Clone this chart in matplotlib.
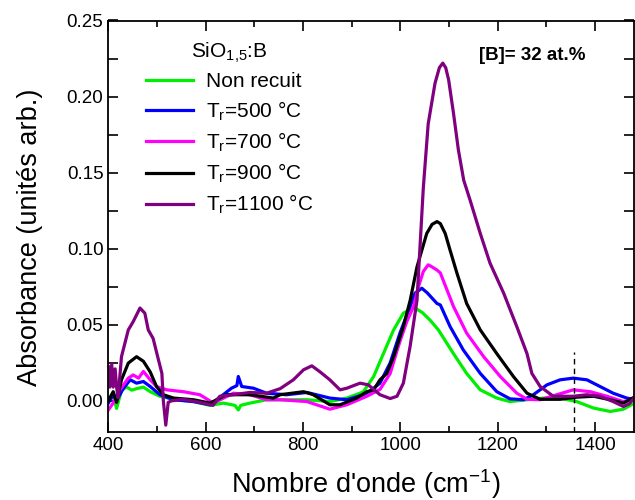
import matplotlib
matplotlib.use("Agg")
import matplotlib.pyplot as plt
from matplotlib.ticker import MultipleLocator

plt.rcParams['font.family'] = ['Liberation Sans', 'DejaVu Sans']
plt.rcParams['mathtext.default'] = 'regular'

# ---- data ----
green_x = [400, 407, 412, 417, 427, 438, 448, 458, 472, 486, 506, 534, 575, 609, 636, 660, 667, 672, 691,
           725, 766, 808, 855, 890, 917, 924, 945, 965, 986, 1006, 1020, 1030, 1045, 1061, 1078, 1109, 1136,
           1164, 1198, 1225, 1260, 1294, 1328, 1362, 1397, 1431, 1458, 1478]
green_y = [0.000, 0.004, 0.001, -0.005, 0.007, 0.009, 0.007, 0.008, 0.009, 0.006, 0.003, 0.001, -0.0005,
           -0.003, -0.0015, -0.003, -0.006, -0.003, -0.0015, 0.0007, 0.0007, 0.0007, -0.0005, 0.0018, 0.005,
           0.006, 0.016, 0.031, 0.0466, 0.0576, 0.060, 0.061, 0.058, 0.053, 0.0466, 0.031, 0.018, 0.0072,
           0.0018, -0.0005, 0.0007, 0.0018, 0.0018, -0.0005, -0.0048, -0.007, -0.0055, -0.002]

blue_x = [400, 410, 417, 431, 445, 458, 472, 486, 506, 534, 575, 609, 636, 653, 664, 667, 674, 698, 725,
          766, 808, 855, 890, 924, 938, 958, 979, 999, 1020, 1030, 1044, 1055, 1075, 1082, 1102, 1129, 1164,
          1198, 1225, 1253, 1273, 1301, 1328, 1355, 1383, 1410, 1437, 1465, 1478]
blue_y = [-0.0015, 0.004, 0.000, 0.0083, 0.0138, 0.0116, 0.0127, 0.0094, 0.004, 0.0007, -0.0005, -0.0026,
          0.004, 0.0083, 0.010, 0.016, 0.0094, 0.0083, 0.005, 0.004, 0.0055, 0.0018, 0.0007, 0.004, 0.0065,
          0.0116, 0.025, 0.0445, 0.062, 0.0708, 0.074, 0.071, 0.064, 0.063, 0.0488, 0.0335, 0.018, 0.006,
          0.0013, 0.0007, 0.004, 0.0105, 0.0138, 0.0149, 0.0138, 0.0094, 0.005, 0.0018, 0.001]

magenta_x = [400, 410, 424, 441, 451, 462, 472, 486, 499, 520, 554, 588, 616, 657, 691, 725, 753, 808, 855,
             890, 931, 958, 979, 993, 1000, 1013, 1027, 1037, 1047, 1057, 1065, 1075, 1082, 1109, 1136, 1171,
             1205, 1239, 1260, 1287, 1321, 1355, 1390, 1424, 1458, 1478]
magenta_y = [-0.006, -0.0015, 0.0072, 0.0149, 0.017, 0.0149, 0.0193, 0.0138, 0.0094, 0.0072, 0.006, 0.004,
             -0.0015, 0.005, 0.004, 0.0007, 0.0007, -0.0005, -0.0055, -0.0026, 0.003, 0.0075, 0.018, 0.033,
             0.040, 0.052, 0.062, 0.075, 0.085, 0.0894, 0.088, 0.086, 0.084, 0.062, 0.0445, 0.029, 0.016,
             0.005, 0.001, 0.0007, 0.004, 0.0072, 0.006, 0.003, -0.0005, 0.001]

black_x = [400, 405, 410, 417, 427, 441, 458, 472, 486, 499, 513, 534, 575, 609, 643, 691, 739, 753, 801,
           821, 855, 876, 910, 931, 945, 958, 972, 986, 1006, 1020, 1034, 1054, 1065, 1075, 1082, 1092, 1102,
           1116, 1136, 1164, 1198, 1232, 1260, 1287, 1328, 1362, 1397, 1431, 1458, 1478]
black_y = [0.000, 0.003, 0.006, -0.001, 0.0138, 0.0248, 0.029, 0.026, 0.019, 0.0094, 0.004, 0.0018, 0.0007,
           -0.0015, 0.004, 0.004, 0.0018, 0.004, 0.006, 0.004, -0.0026, -0.0026, 0.0018, 0.006, 0.0072, 0.0138,
           0.018, 0.029, 0.0488, 0.066, 0.088, 0.110, 0.116, 0.1178, 0.1165, 0.110, 0.099, 0.084, 0.064,
           0.0466, 0.031, 0.016, 0.005, 0.001, 0.001, 0.0024, 0.003, 0.0007, -0.0015, 0.002]

purple_x = [400, 403, 407, 410, 414, 417, 420, 427, 441, 451, 465, 475, 482, 492, 499, 510, 513, 518, 523,
            530, 553, 588, 615, 629, 656, 691, 725, 753, 780, 801, 818, 835, 855, 876, 890, 917, 934, 958,
            979, 993, 1006, 1020, 1034, 1047, 1057, 1071, 1080, 1087, 1093, 1099, 1109, 1119, 1130, 1143,
            1164, 1184, 1212, 1239, 1260, 1270, 1287, 1314, 1355, 1383, 1410, 1437, 1458, 1470, 1480]
purple_y = [0.0225, 0.009, 0.024, 0.009, 0.021, 0.009, 0.002, 0.029, 0.0466, 0.052, 0.061, 0.0576, 0.0466,
            0.041, 0.032, 0.018, 0.000, -0.016, -0.001, 0.000, 0.001, -0.001, -0.003, 0.003, 0.004, 0.0055,
            0.005, 0.008, 0.0138, 0.0204, 0.023, 0.019, 0.0138, 0.0072, 0.0083, 0.0116, 0.0105, 0.004, 0.0015,
            0.003, 0.0116, 0.036, 0.066, 0.14, 0.182, 0.2087, 0.219, 0.222, 0.219, 0.211, 0.189, 0.165, 0.145,
            0.132, 0.110, 0.0905, 0.0708, 0.0488, 0.031, 0.018, 0.0094, 0.003, 0.003, 0.004, 0.003, -0.0005,
            -0.0037, -0.002, 0.002]

labels = ['Non recuit', 'T$_r$=500 °C', 'T$_r$=700 °C', 'T$_r$=900 °C', 'T$_r$=1100 °C']
colors = ['#00EE00', '#0000FF', '#FF00FF', '#000000', '#800080']
legend_title = 'SiO$_{1{,}5}$:B'
annotation = '[B]= 32 at.%'
marker_x = 1356
marker_top = 0.032

fig = plt.figure(figsize=(6.35, 5.0), dpi=100)
ax = fig.add_axes([0.1706, 0.136, 0.828, 0.823])

series = [(green_x, green_y), (blue_x, blue_y), (magenta_x, magenta_y), (black_x, black_y), (purple_x, purple_y)]
for (xs, ys), lab, col in zip(series, labels, colors):
    ax.plot(xs, ys, color=col, lw=2.3, label=lab, solid_joinstyle='round')

ax.set_xlim(400, 1480)
ax.set_ylim(-0.0205, 0.25)
ax.plot([marker_x, marker_x], [-0.0205, marker_top], color='black', lw=1.0, ls=(0, (4, 3)))

ax.xaxis.set_major_locator(MultipleLocator(200))
ax.xaxis.set_minor_locator(MultipleLocator(100))
ax.yaxis.set_major_locator(MultipleLocator(0.05))
ax.yaxis.set_minor_locator(MultipleLocator(0.025))
ax.yaxis.set_major_formatter(plt.FormatStrFormatter('%.2f'))
ax.tick_params(which='both', direction='in', top=True, right=True, width=1.2, labelsize=13.5)
ax.tick_params(which='major', length=7)
ax.tick_params(axis='x', which='minor', length=4)
ax.tick_params(axis='y', which='minor', length=7)
for s in ax.spines.values():
    s.set_linewidth(1.3)

ax.set_xlabel("Nombre d'onde (cm$^{-1}$)", fontsize=19.5)
ax.xaxis.set_label_coords(0.49, -0.085)
ax.xaxis.label.set_va('top')
ax.set_ylabel('Absorbance (unités arb.)', fontsize=19.5)
ax.yaxis.set_label_coords(-0.149, 0.474)
ax.yaxis.label.set_va('center')

leg = ax.legend(loc='upper left', bbox_to_anchor=(0.055, 0.972), frameon=False, fontsize=15,
                title=legend_title, title_fontsize=15, handlelength=2.3, labelspacing=0.38,
                handletextpad=0.6, borderaxespad=0)
ax.text(0.806, 0.916, annotation, transform=ax.transAxes, fontsize=13.5, fontweight='bold',
        ha='center', va='center')

fig.savefig('out.png', dpi=100)
